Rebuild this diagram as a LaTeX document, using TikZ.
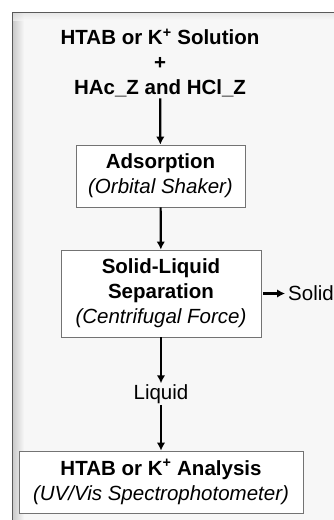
\documentclass[tikz,border=0pt]{standalone}
\usepackage{fontspec}
\setmainfont{Liberation Sans}
\usetikzlibrary{arrows.meta}
\usetikzlibrary{positioning}
\tikzset{stage/.style = {draw = black!55, fill = white, align = center, inner sep = 0, line width = 0.8pt}}
\tikzset{flow/.style = {-{Latex[length = 8pt, width = 8.5pt]}, line width = 2.2pt}}
\tikzset{lbl/.style = {align = center, inner sep = 1pt}}

\begin{document}
\begin{tikzpicture}[x = 1pt, y = -1pt, font = \fontsize{20.5}{25}\selectfont]

      \useasboundingbox (0, 0) rectangle (334, 520);
      \fill [white] (0, 0) rectangle (334, 520);
      \fill [black!3] (12, 12) rectangle (334, 520);
      \shade [left color = black!22, right color = black!3] (12, 12) rectangle (24, 520);
      \shade [top color = black!14, bottom color = black!3, fill opacity = 0.6] (12, 12) rectangle (334, 20);
      \draw [black!65, line width = 1pt] (12, 520) -- (12, 12) -- (334, 12);

      \node [lbl] (feed) at (160, 63) {\bfseries HTAB or K\textsuperscript{+} Solution\\ \bfseries +\\ \bfseries HAc\_Z and HCl\_Z};
      \node [stage, minimum width = 169, minimum height = 62] (ads) at (160.5, 176) {\bfseries Adsorption\\ \itshape (Orbital Shaker)};
      \node [stage, minimum width = 200, minimum height = 87] (sep) at (161, 293.5) {\bfseries Solid-Liquid\\ \bfseries Separation\\ \itshape (Centrifugal Force)};
      \node [lbl, anchor = west] (solid) at (287, 293.5) {Solid};
      \node [lbl] (liq) at (161, 394) {Liquid};
      \node [stage, minimum width = 284, minimum height = 62] (ana) at (161, 482) {\bfseries HTAB or K\textsuperscript{+} Analysis\\ \itshape (UV/Vis Spectrophotometer)};

      \draw [flow] (feed) -- (ads);
      \draw [flow] (ads) -- (sep);
      \draw [flow, shorten <= 2pt, shorten >= 2pt] (sep.east) -- (solid.west);
      \draw [flow] (sep) -- (liq);
      \draw [flow] (liq) -- (ana);
    \end{tikzpicture}
\end{document}
